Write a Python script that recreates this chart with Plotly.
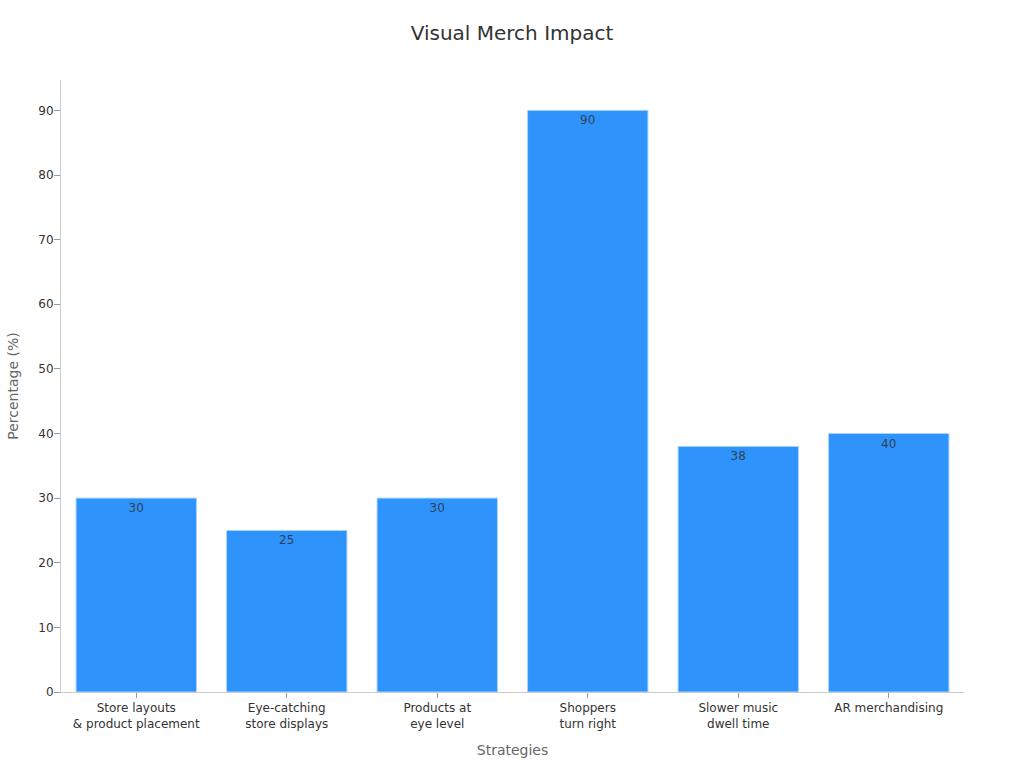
import plotly.graph_objects as go

categories = ['Store layouts<br>& product placement', 'Eye-catching<br>store displays', 'Products at<br>eye level',
              'Shoppers<br>turn right', 'Slower music<br>dwell time', 'AR merchandising']
values = [30, 25, 30, 90, 38, 40]
y_ticks = [0, 10, 20, 30, 40, 50, 60, 70, 80, 90]

FONT = 'DejaVu Sans'

fig = go.Figure(go.Bar(x=categories, y=values, text=values, textposition='inside', insidetextanchor='end',
                       textangle=0, textfont=dict(size=12, color='#2f4358', family=FONT),
                       marker=dict(color='#2e93fa', line=dict(color='#a9d4fd', width=1)), width=0.8))
fig.update_layout(
    width=1024, height=768, autosize=False, template=None, showlegend=False,
    paper_bgcolor='white', plot_bgcolor='white', font=dict(family=FONT),
    title=dict(text='Visual Merch Impact', x=0.5, xanchor='center', y=0.957, yanchor='middle',
               font=dict(size=20, color='#333')),
    margin=dict(l=61, r=60, t=80, b=76),
    xaxis=dict(title=dict(text='Strategies', font=dict(size=14, color='#666'), standoff=15),
               showline=True, linecolor='#ccc', ticks='outside', ticklen=5, tickcolor='#999', showgrid=False,
               range=[-0.5, 5.5], tickfont=dict(size=12, color='#333')),
    yaxis=dict(title=dict(text='Percentage (%)', font=dict(size=14, color='#666'), standoff=16),
               range=[0, 94.7], tickmode='array', tickvals=y_ticks, showline=True, linecolor='#ccc',
               ticks='outside', ticklen=6, tickcolor='#999', ticklabelstandoff=-2, showgrid=False, zeroline=False,
               tickfont=dict(size=12, color='#333')))
# page margin would push the fixed-size figure 8px off
fig.write_html('out.html', post_script="document.body.style.margin='0';", config=dict(displayModeBar=False))
